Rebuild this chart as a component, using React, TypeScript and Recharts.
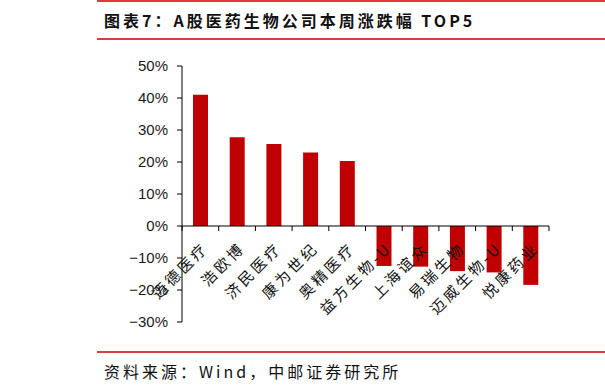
import React from "react";
import { BarChart, Bar, XAxis, YAxis, ReferenceLine } from "recharts";

const companies = [
  "迈德医疗",
  "浩欧博",
  "济民医疗",
  "康为世纪",
  "奥精医疗",
  "益方生物-U",
  "上海谊众",
  "易瑞生物",
  "迈威生物-U",
  "悦康药业",
];
const weeklyChange = [0.41, 0.277, 0.256, 0.23, 0.203, -0.125, -0.127, -0.141, -0.145, -0.184];
const yTicks = [-0.3, -0.2, -0.1, 0, 0.1, 0.2, 0.3, 0.4, 0.5];

const W = 605;
const H = 391;
const MARGIN = { top: 66, right: 56, bottom: 0, left: 0 };
const X_AXIS_H = 69;
const Y_AXIS_W = 182;
const Y_MIN = -0.3;
const Y_MAX = 0.5;
const PLOT_W = W - MARGIN.right - Y_AXIS_W;
const PLOT_H = H - MARGIN.top - X_AXIS_H;
const BAND = PLOT_W / companies.length;
const ZERO_Y = MARGIN.top + (PLOT_H * Y_MAX) / (Y_MAX - Y_MIN);

const RED = "#C00000";
const LINE_RED = "#E0393E";
const CJK = '"Noto Sans CJK SC", "Noto Sans", sans-serif';

const data = companies.map((name, i) => ({ name, value: weeklyChange[i] }));

// x ticks sit on category boundaries and the labels hang from the zero line
function CategoryTick(props: any) {
  const { x, payload, index } = props;
  const left = x - BAND / 2;
  const ax = x + 9;
  const ay = ZERO_Y + 23;
  return (
    <g>
      <line x1={left} y1={ZERO_Y} x2={left} y2={ZERO_Y + 5} stroke="#000" strokeWidth={1} />
      {index === companies.length - 1 && (
        <line x1={x + BAND / 2} y1={ZERO_Y} x2={x + BAND / 2} y2={ZERO_Y + 5} stroke="#000" strokeWidth={1} />
      )}
      <text
        x={ax}
        y={ay}
        transform={`rotate(-45 ${ax} ${ay})`}
        textAnchor="end"
        fontSize={15}
        letterSpacing={3}
        fontFamily={CJK}
        fill="#111"
      >
        {payload.value}
      </text>
    </g>
  );
}

export default function App() {
  return (
    <div
      style={{
        position: "absolute",
        left: 0,
        top: 0,
        width: W,
        height: H,
        background: "#fff",
        overflow: "hidden",
      }}
    >
      <div style={{ position: "absolute", left: 97, right: 0, top: 0, height: 2, background: LINE_RED }} />
      <div
        style={{
          position: "absolute",
          left: 104,
          top: 11,
          fontFamily: CJK,
          fontWeight: 700,
          fontSize: 16,
          lineHeight: "18px",
          letterSpacing: 3,
          color: "#111",
          whiteSpace: "nowrap",
        }}
      >
        图表7：A股医药生物公司本周涨跌幅 TOP5
      </div>
      <div style={{ position: "absolute", left: 97, right: 0, top: 38, height: 2, background: LINE_RED }} />

      <BarChart width={W} height={H} data={data} margin={MARGIN}>
        <YAxis
          width={Y_AXIS_W}
          domain={[Y_MIN, Y_MAX]}
          ticks={yTicks}
          interval={0}
          tickFormatter={(v: number) => `${v < 0 ? "\u2212" : ""}${Math.round(Math.abs(v) * 100)}%`}
          tick={{ fill: "#1a1a1a", fontSize: 15, fontFamily: "Liberation Sans, Arial, sans-serif" }}
          axisLine={{ stroke: "#000" }}
          tickLine={{ stroke: "#000" }}
          tickSize={5}
          tickMargin={9}
        />
        <XAxis
          dataKey="name"
          interval={0}
          axisLine={false}
          tickLine={false}
          tick={<CategoryTick />}
          height={X_AXIS_H}
        />
        <Bar dataKey="value" fill={RED} barSize={15} isAnimationActive={false} />
        <ReferenceLine y={0} stroke="#000" strokeWidth={1} />
      </BarChart>

      <div style={{ position: "absolute", left: 97, right: 0, top: 351, height: 2, background: LINE_RED }} />
      <div
        style={{
          position: "absolute",
          left: 104,
          top: 362,
          fontFamily: CJK,
          fontSize: 16,
          lineHeight: "18px",
          letterSpacing: 3,
          color: "#111",
          whiteSpace: "nowrap",
        }}
      >
        资料来源：Wind，中邮证券研究所
      </div>
    </div>
  );
}
